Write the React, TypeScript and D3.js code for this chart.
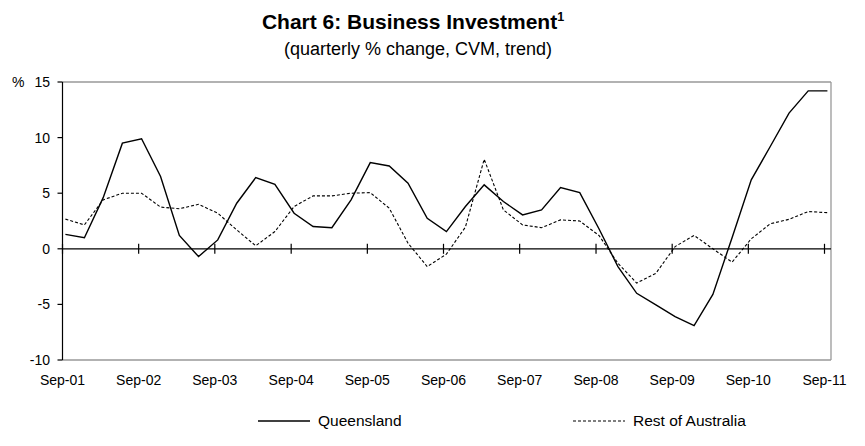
import React from "react";
import * as d3 from "d3";

const startYear = 2001;
const queensland = [
  1.3, 1.0, 4.6, 9.5, 9.9, 6.5, 1.2, -0.7, 0.8, 4.1,
  6.4, 5.8, 3.2, 2.0, 1.9, 4.4, 7.75, 7.45, 5.9, 2.75,
  1.55, 3.8, 5.75, 4.25, 3.05, 3.5, 5.5, 5.05, 1.8, -1.6,
  -4.0, -5.05, -6.1, -6.9, -4.1, 1.0, 6.2, 9.2, 12.2, 14.2,
  14.2,
];
const restOfAustralia = [
  2.67, 2.15, 4.4, 5.0, 5.0, 3.75, 3.6, 4.0, 3.2, 1.7,
  0.27, 1.55, 3.8, 4.76, 4.76, 5.0, 5.05, 3.65, 0.5, -1.6,
  -0.48, 1.95, 8.05, 3.5, 2.15, 1.9, 2.6, 2.5, 1.2, -1.3,
  -3.08, -2.2, 0.2, 1.2, 0.0, -1.2, 0.9, 2.25, 2.65, 3.35,
  3.25,
];
const yTicks = [-10, -5, 0, 5, 10, 15];
const xTickLabels = ["Sep-01", "Sep-02", "Sep-03", "Sep-04", "Sep-05", "Sep-06", "Sep-07", "Sep-08", "Sep-09", "Sep-10", "Sep-11"];
const seriesNames = ["Queensland", "Rest of Australia"];

// data dated mid-month of each quarter's end month
const dates = queensland.map((_, i) => new Date(startYear, 8 + i * 3, 15));
const tickDates = xTickLabels.map((_, k) => new Date(startYear + k, 8, 1));

const W = 865;
const H = 446;
const left = 62.5;
const right = 831;
const top = 82;
const bottom = 360;

export default function App() {
  const x = d3
    .scaleTime()
    .domain([new Date(2001, 8, 1), new Date(2011, 8, 1)])
    .range([left, 824.5]);
  const y = d3.scaleLinear().domain([-10, 15]).range([bottom, top]);

  const lineGen = (vals: number[]) =>
    d3
      .line<number>()
      .x((_, i) => x(dates[i]))
      .y((v) => y(v))(vals) || "";

  const font = "'Liberation Sans', Arial, sans-serif";

  return (
    <div style={{ position: "absolute", left: 0, top: 0 }}>
      <svg width={W} height={H} style={{ display: "block", fontFamily: font }}>
        <rect x={0} y={0} width={W} height={H} fill="#fff" />
        <text x={413} y={29} textAnchor="middle" fontSize={21} fontWeight="bold">
          Chart 6: Business Investment
          <tspan fontSize={12.5} dy={-8}>1</tspan>
        </text>
        <text x={418} y={55} textAnchor="middle" fontSize={18}>
          (quarterly % change, CVM, trend)
        </text>

        {/* plot frame */}
        <line x1={left} x2={right} y1={top} y2={top} stroke="#999" strokeWidth={1.3} />
        <line x1={right} x2={right} y1={top} y2={bottom} stroke="#999" strokeWidth={1.3} />
        <line x1={left} x2={right} y1={bottom} y2={bottom} stroke="#999" strokeWidth={1.3} />

        {/* y axis */}
        <line x1={left} x2={left} y1={top} y2={bottom} stroke="#000" strokeWidth={1.2} />
        {yTicks.map((t) => (
          <g key={t}>
            <line x1={left - 5} x2={left} y1={y(t)} y2={y(t)} stroke="#000" strokeWidth={1.2} />
            <text x={50} y={y(t) + 5} textAnchor="end" fontSize={14}>
              {t}
            </text>
          </g>
        ))}
        <text x={12} y={y(15) + 5} fontSize={14}>%</text>

        {/* x axis at zero */}
        <line x1={left} x2={right} y1={y(0)} y2={y(0)} stroke="#000" strokeWidth={1.3} />
        {tickDates.map((d, k) => (
          <g key={k}>
            <line x1={x(d)} x2={x(d)} y1={y(0) - 5} y2={y(0) + 5} stroke="#000" strokeWidth={1.2} />
            <text x={x(d)} y={385} textAnchor="middle" fontSize={14}>
              {xTickLabels[k]}
            </text>
          </g>
        ))}

        <path d={lineGen(restOfAustralia)} fill="none" stroke="#000" strokeWidth={1.1} strokeDasharray="3,2" />
        <path d={lineGen(queensland)} fill="none" stroke="#000" strokeWidth={1.4} />

        {/* legend */}
        <line x1={258} x2={310} y1={421} y2={421} stroke="#000" strokeWidth={1.4} />
        <text x={318} y={426} fontSize={15.5}>{seriesNames[0]}</text>
        <line x1={573} x2={625} y1={421} y2={421} stroke="#000" strokeWidth={1.1} strokeDasharray="3,2" />
        <text x={633} y={426} fontSize={15.5}>{seriesNames[1]}</text>
      </svg>
    </div>
  );
}
